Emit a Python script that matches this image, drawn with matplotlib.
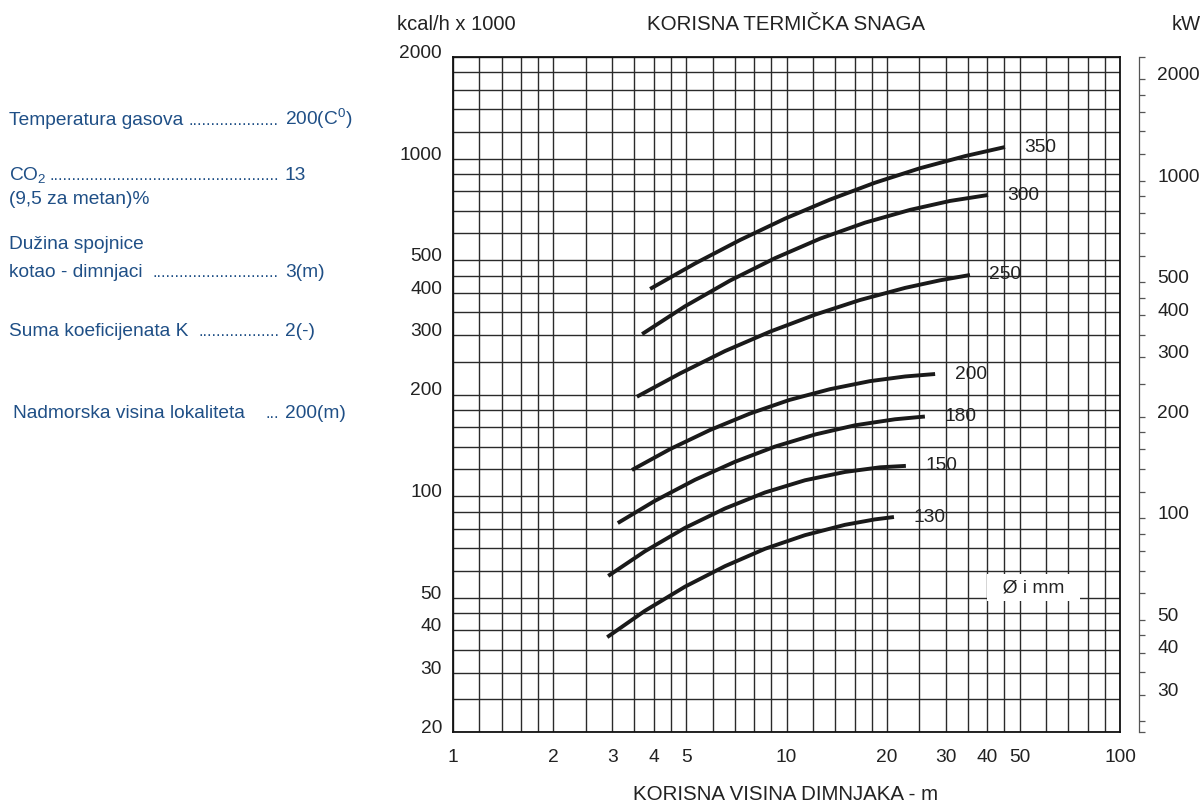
import numpy as np
import matplotlib
matplotlib.use('Agg')
import matplotlib.pyplot as plt
from matplotlib.ticker import NullFormatter
from matplotlib.transforms import ScaledTranslation

plt.rcParams['font.family'] = ['Liberation Sans', 'DejaVu Sans']
plt.rcParams['mathtext.default'] = 'regular'

W, H = 1202, 807

# grid / tick values
x_grid = [1, 1.2, 1.4, 1.6, 1.8, 2, 2.5, 3, 3.5, 4, 4.5, 5, 6, 7, 8, 9, 10,
          12, 14, 16, 18, 20, 25, 30, 35, 40, 45, 50, 60, 70, 80, 90, 100]
x_labels = [1, 2, 3, 4, 5, 10, 20, 30, 40, 50, 100]
y_grid = [20, 25, 30, 35, 40, 45, 50, 60, 70, 80, 90, 100, 120, 140, 160, 180,
          200, 250, 300, 350, 400, 450, 500, 600, 700, 800, 900, 1000,
          1200, 1400, 1600, 1800, 2000]
y_labels = [20, 30, 40, 50, 100, 200, 300, 400, 500, 1000, 2000]
kw_labels = [30, 40, 50, 100, 200, 300, 400, 500, 1000, 2000]
kw_factor = 1.163

# curves: chimney height (m) -> power (kcal/h x 1000), per diameter (mm)
diam = ['350', '300', '250', '200', '180', '150', '130']
h350 = [3.90, 5.32, 7.26, 9.90, 13.5, 18.4, 25.1, 34.3, 45.2]
p350 = [411, 489, 574, 664, 756, 848, 936, 1017, 1082]
h300 = [3.69, 4.96, 6.77, 9.24, 12.6, 17.2, 23.5, 30.9, 40.2]
p300 = [302, 365, 435, 507, 579, 646, 705, 749, 780]
h250 = [3.56, 4.80, 6.54, 8.92, 12.2, 16.6, 22.7, 28.9, 35.5]
p250 = [197, 231, 269, 307, 345, 381, 414, 436, 452]
h200 = [3.44, 4.47, 5.90, 7.78, 10.2, 13.5, 17.8, 22.7, 27.9]
p200 = [119.5, 137.7, 157, 175.7, 192.7, 207.4, 219.1, 226.2, 230]
h180 = [3.12, 4.03, 5.32, 7.01, 9.24, 12.2, 16.05, 21.15, 26.0]
p180 = [83.2, 96.8, 111.8, 126.4, 140.2, 152.3, 162.1, 168.9, 172.1]
h150 = [2.92, 3.76, 4.96, 6.54, 8.62, 11.36, 14.97, 19.07, 22.8]
p150 = [58.0, 68.6, 80.5, 91.9, 102.5, 111.4, 117.9, 121.7, 122.9]
h130 = [2.90, 3.76, 4.96, 6.54, 8.62, 11.36, 14.97, 18.4, 21.0]
p130 = [38.2, 45.7, 53.9, 62.0, 69.8, 76.6, 82.2, 85.3, 86.7]
heights = [h350, h300, h250, h200, h180, h150, h130]
powers = [p350, p300, p250, p200, p180, p150, p130]

blue = '#1f4f86'
fs = 13.8

fig = plt.figure(figsize=(W / 100, H / 100), dpi=100)
ax = fig.add_axes([453 / W, 1 - 732 / H, (1120 - 453) / W, (732 - 57) / H])
ax.set_xscale('log')
ax.set_yscale('log')
ax.set_xlim(1, 100)
ax.set_ylim(20, 2000)

ax.set_xticks(x_grid, minor=True)
ax.set_yticks(y_grid, minor=True)
ax.set_xticks(x_labels)
ax.set_xticklabels([str(v) for v in x_labels])
ax.set_yticks(y_labels)
ax.set_yticklabels([str(v) for v in y_labels])
ax.xaxis.set_minor_formatter(NullFormatter())
ax.yaxis.set_minor_formatter(NullFormatter())
ax.tick_params(which='both', length=0, labelsize=fs, colors='#222222')
ax.tick_params(axis='x', pad=12)
ax.tick_params(axis='y', pad=8)
ax.grid(True, which='both', color='#2a2a2a', lw=1.0)
ax.set_axisbelow(True)
for s in ax.spines.values():
    s.set_linewidth(1.3)
    s.set_color('#111111')

for d, h, p in zip(diam, heights, powers):
    ax.plot(h, p, color='#1a1a1a', lw=2.8, solid_capstyle='butt',
            solid_joinstyle='round', zorder=3)
    ax.annotate(d, xy=(h[-1], p[-1]), xytext=(14, 0), textcoords='offset points',
                ha='left', va='center', fontsize=fs, color='#222222', zorder=4)

ax.text(55, 53.5, '  Ø i mm  ', ha='center', va='center', fontsize=fs,
        color='#222222', zorder=4,
        bbox=dict(boxstyle='square,pad=0.25', fc='white', ec='none'))

# kW axis on the right
ax2 = ax.twinx()
ax2.set_yscale('log')
ax2.set_ylim(20 * kw_factor, 2000 * kw_factor)
for k in ['top', 'bottom', 'left']:
    ax2.spines[k].set_visible(False)
ax2.spines['right'].set_position(('outward', 13.7))
ax2.spines['right'].set_linewidth(0.9)
ax2.spines['right'].set_color('#555555')
kw_minor = [v for v in y_grid if v not in kw_labels and v > 20]
kw_minor += [20 * kw_factor, 2000 * kw_factor]
ax2.set_yticks(kw_minor, minor=True)
ax2.set_yticks(kw_labels)
ax2.set_yticklabels([str(v) for v in kw_labels])
ax2.yaxis.set_minor_formatter(NullFormatter())
ax2.tick_params(which='both', direction='out', length=4, width=0.9,
                color='#555555', labelsize=fs, labelcolor='#222222', pad=9)

# labels sit a bit above their lines
up = ScaledTranslation(0, 4 / 72, fig.dpi_scale_trans)
for lab in ax.get_yticklabels() + ax2.get_yticklabels():
    lab.set_transform(lab.get_transform() + up)


def ftext(x, y, s, **kw):
    fig.text(x / W, 1 - y / H, s, **kw)


ftext(397, 25, 'kcal/h x 1000', fontsize=14.5, color='#222222', va='center', ha='left')
ftext(786, 25, 'KORISNA TERMIČKA SNAGA', fontsize=14.8, color='#222222',
      va='center', ha='center')
ftext(1201, 25, 'kW', fontsize=14.5, color='#222222', va='center', ha='right')
ftext(786, 795, 'KORISNA VISINA DIMNJAKA - m', fontsize=14.8, color='#222222',
      va='center', ha='center')

# parameters panel
params = [('Temperatura gasova', 9, 125, 20, '200(C$^0$)'),
          ('CO$_2$', 9, 180, 51, '13'),
          ('kotao - dimnjaci', 9, 277, 28, '3(m)'),
          ('Suma koeficijenata K', 9, 336, 18, '2(-)'),
          ('Nadmorska visina lokaliteta', 13, 418, 3, '200(m)')]
for name, x0, yb, ndots, val in params:
    ftext(x0, yb, name, fontsize=fs, color=blue, va='baseline', ha='left')
    ftext(279, yb, '.' * ndots, fontsize=12, color=blue, va='baseline', ha='right')
    ftext(285, yb, val, fontsize=fs, color=blue, va='baseline', ha='left')
ftext(9, 204, '(9,5 za metan)%', fontsize=fs, color=blue, va='baseline', ha='left')
ftext(9, 249, 'Dužina spojnice', fontsize=fs, color=blue, va='baseline', ha='left')

fig.savefig('out.png', dpi=100)
